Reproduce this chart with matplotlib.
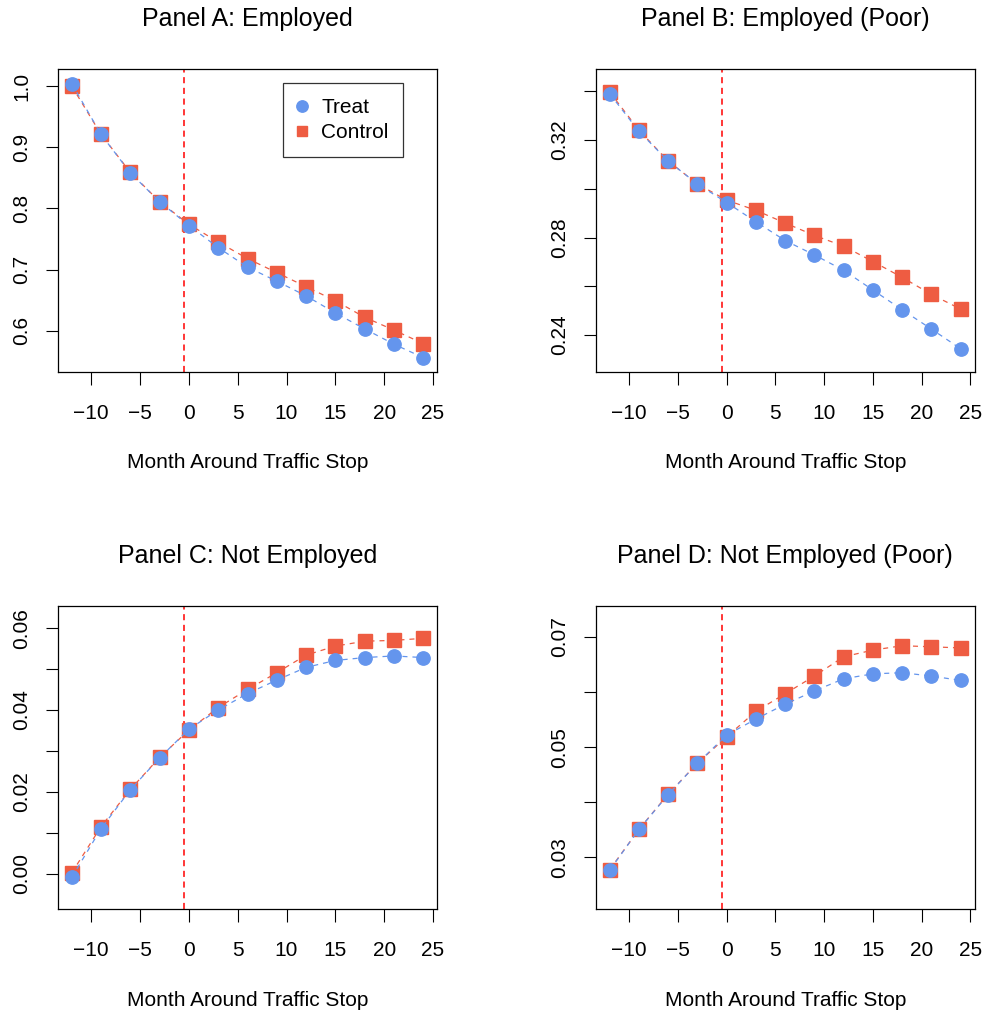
import numpy as np
import matplotlib
matplotlib.use("Agg")
import matplotlib.pyplot as plt

plt.rcParams['font.family'] = ['Liberation Sans', 'DejaVu Sans']

# months relative to the traffic stop
months = [-12, -9, -6, -3, 0, 3, 6, 9, 12, 15, 18, 21, 24]

emp_treat = [1.004, 0.921, 0.858, 0.811, 0.772, 0.736, 0.704, 0.681, 0.657, 0.629, 0.603, 0.578, 0.556]
emp_control = [1.000, 0.921, 0.859, 0.811, 0.774, 0.745, 0.718, 0.695, 0.672, 0.649, 0.622, 0.601, 0.579]

poor_treat = [0.3390, 0.3236, 0.3114, 0.3020, 0.2944, 0.2865, 0.2788, 0.2729, 0.2666, 0.2585, 0.2504, 0.2425, 0.2344]
poor_control = [0.3397, 0.3241, 0.3114, 0.3020, 0.2954, 0.2912, 0.2860, 0.2809, 0.2765, 0.2702, 0.2637, 0.2567, 0.2507]

nemp_treat = [-0.0009, 0.0110, 0.0205, 0.0283, 0.0353, 0.0400, 0.0440, 0.0473, 0.0504, 0.0521, 0.0528, 0.0532, 0.0528]
nemp_control = [0.0002, 0.0115, 0.0206, 0.0284, 0.0351, 0.0406, 0.0450, 0.0491, 0.0534, 0.0556, 0.0568, 0.0570, 0.0575]

nemp_poor_treat = [0.0277, 0.0351, 0.0414, 0.0471, 0.0522, 0.0551, 0.0578, 0.0602, 0.0624, 0.0633, 0.0635, 0.0629, 0.0621]
nemp_poor_control = [0.0278, 0.0351, 0.0415, 0.0471, 0.0519, 0.0565, 0.0597, 0.0629, 0.0664, 0.0676, 0.0684, 0.0682, 0.0680]

xticks = [-10, -5, 0, 5, 10, 15, 20, 25]

panels = [
    dict(title="Panel A: Employed", treat=emp_treat, control=emp_control,
         ylim=(0.533, 1.028), yticks=[0.6, 0.7, 0.8, 0.9, 1.0],
         ylabels=["0.6", "0.7", "0.8", "0.9", "1.0"]),
    dict(title="Panel B: Employed (Poor)", treat=poor_treat, control=poor_control,
         ylim=(0.2250, 0.3492), yticks=[0.24, 0.26, 0.28, 0.30, 0.32, 0.34],
         ylabels=["0.24", "", "0.28", "", "0.32", ""]),
    dict(title="Panel C: Not Employed", treat=nemp_treat, control=nemp_control,
         ylim=(-0.0087, 0.0654), yticks=[0.0, 0.01, 0.02, 0.03, 0.04, 0.05, 0.06],
         ylabels=["0.00", "", "0.02", "", "0.04", "", "0.06"]),
    dict(title="Panel D: Not Employed (Poor)", treat=nemp_poor_treat, control=nemp_poor_control,
         ylim=(0.0206, 0.0756), yticks=[0.03, 0.04, 0.05, 0.06, 0.07],
         ylabels=["0.03", "", "0.05", "", "0.07"]),
]

treat_col = "#6495ED"
control_col = "#EE5C42"

W, H = 986, 1013
fig = plt.figure(figsize=(W / 100, H / 100), dpi=100)

# axes boxes in pixels: left, top, right, bottom
boxes = [(57.7, 69, 437.3, 371.7), (595.7, 69, 974.7, 371.7),
         (57.7, 606, 437.3, 909.3), (595.7, 606, 974.7, 909.3)]

for p, (l, t, r, b) in zip(panels, boxes):
    ax = fig.add_axes([l / W, 1 - b / H, (r - l) / W, (b - t) / H])
    ax.plot(months, p["control"], color=control_col, lw=0.9, dashes=(4, 4),
            marker="s", ms=10.6, mec=control_col, mfc=control_col, zorder=2)
    ax.plot(months, p["treat"], color=treat_col, lw=0.9, dashes=(4, 4),
            marker="o", ms=9.6, mec=treat_col, mfc=treat_col, zorder=3)
    ax.axvline(-0.5, color="red", lw=1.1, dashes=(4, 3), zorder=1)

    ax.set_xlim(-13.44, 25.44)
    ax.set_ylim(*p["ylim"])
    ax.set_xticks(xticks)
    ax.set_xticklabels([str(x).replace("-", "\u2212") for x in xticks])
    ax.set_yticks(p["yticks"])
    ax.set_yticklabels(p["ylabels"], rotation=90, va="center")

    ax.tick_params(axis="both", length=9, width=0.8, labelsize=15, color="black")
    ax.tick_params(axis="x", pad=14)
    ax.tick_params(axis="y", pad=10)
    for s in ax.spines.values():
        s.set_linewidth(0.9)
        s.set_color("black")

    ax.set_title(p["title"], fontsize=18, pad=31)
    ax.set_xlabel("Month Around Traffic Stop", fontsize=15, labelpad=22)

    if p["title"].startswith("Panel A"):
        h_t = plt.Line2D([], [], ls="none", marker="o", ms=8.2, color=treat_col)
        h_c = plt.Line2D([], [], ls="none", marker="s", ms=7.3, color=control_col)
        leg = ax.legend([h_t, h_c], ["Treat", "Control"], loc="upper right",
                        bbox_to_anchor=(0.910, 0.953), borderaxespad=0,
                        fontsize=15, frameon=True, fancybox=False,
                        edgecolor="black", labelspacing=0.3, borderpad=0.7,
                        handlelength=0.4, handletextpad=0.72)
        leg.get_frame().set_linewidth(0.9)

fig.savefig("out.png", dpi=100)
